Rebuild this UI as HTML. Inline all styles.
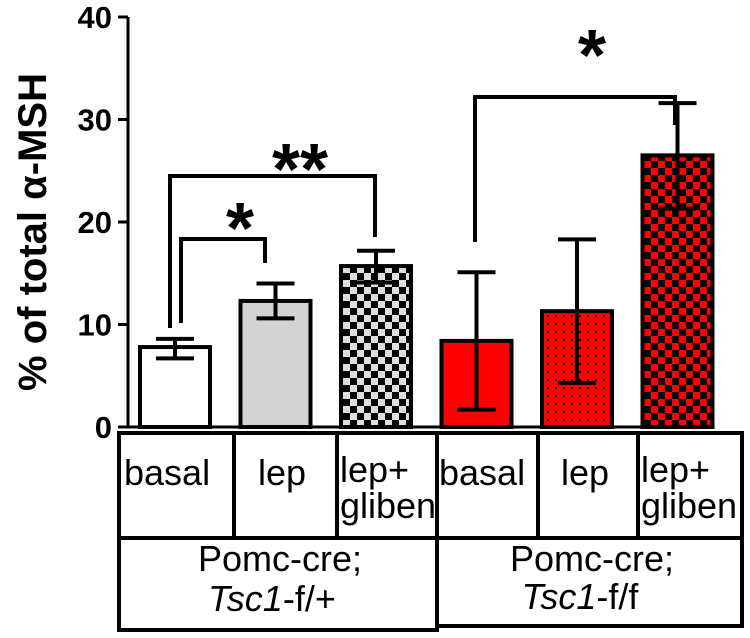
<!DOCTYPE html>
<html><head><meta charset="utf-8"><style>
body{margin:0;background:#fff;}
svg{display:block;font-family:"Liberation Sans",Arial,sans-serif;}
</style></head><body>
<svg id="c" width="750" height="638">
<defs>
<pattern id="chk" width="14" height="14" patternUnits="userSpaceOnUse"><rect width="14" height="14" fill="#ddd"/><rect width="7" height="7" fill="#000"/><rect x="7" y="7" width="7" height="7" fill="#000"/></pattern>
<pattern id="rchk" width="14" height="14" patternUnits="userSpaceOnUse"><rect width="14" height="14" fill="#f00"/><rect width="7" height="7" fill="#000"/><rect x="7" y="7" width="7" height="7" fill="#000"/></pattern>
<pattern id="rdot" width="8" height="8" patternUnits="userSpaceOnUse"><rect width="8" height="8" fill="#f00"/><rect x="3" y="3" width="2" height="2" fill="#000"/></pattern>
</defs>
<g id="plot"></g>
<text transform="translate(46,232) rotate(-90)" text-anchor="middle" font-size="40" font-weight="bold">% of total α-MSH</text>
<g fill="none" stroke="#000" stroke-width="4">
<rect x="119" y="433" width="623" height="105"/>
<rect x="119" y="538" width="318" height="92"/>
<rect x="437" y="538" width="305" height="88"/>
<line x1="234" y1="433" x2="234" y2="538"/><line x1="337" y1="433" x2="337" y2="538"/>
<line x1="437" y1="433" x2="437" y2="538"/><line x1="538" y1="433" x2="538" y2="538"/>
<line x1="638" y1="433" x2="638" y2="538"/>
</g>
<g font-size="36">
<text x="124" y="485">basal</text><text x="258" y="485">lep</text><text x="340" y="482">lep+</text><text x="340" y="518">gliben</text>
<text x="439" y="485">basal</text><text x="561" y="485">lep</text><text x="641" y="482">lep+</text><text x="641" y="518">gliben</text>
<text x="280" y="571" text-anchor="middle">Pomc-cre;</text><text x="272" y="611" text-anchor="middle"><tspan font-style="italic">Tsc1</tspan>-f/+</text>
<text x="592" y="571" text-anchor="middle">Pomc-cre;</text><text x="580" y="609" text-anchor="middle"><tspan font-style="italic">Tsc1</tspan>-f/f</text>
</g>
</svg>
<script>
const categories=["basal","lep","lep+gliben","basal","lep","lep+gliben"];
const means=[7.8,12.3,15.7,8.4,11.3,26.5];
const errUp=[8.6,14.0,17.2,15.1,18.3,31.6];
const errLo=[6.7,10.6,14.1,1.7,4.3,21.3];
const fills=["#fff","#d3d3d3","url(#chk)","#f00","url(#rdot)","url(#rchk)"];
const yTicks=[0,10,20,30,40];
const y=v=>427-v*10.25;
const x=i=>140+i*100.5;
const bw=70;
const NS="http://www.w3.org/2000/svg";
const g=document.getElementById('plot');
function mk(t,a){const e=document.createElementNS(NS,t);for(const k in a)e.setAttribute(k,a[k]);g.appendChild(e);return e;}
let ax=mk('line',{x1:128,y1:y(40),x2:128,y2:427,stroke:'#000','stroke-width':3});


let bx=mk('line',{x1:118,y1:427,x2:712,y2:427,stroke:'#000','stroke-width':3});


yTicks.forEach(t=>{
 let l=mk('line',{x1:118,y1:y(t),x2:128,y2:y(t),stroke:'#000','stroke-width':3});
 
 
 let tx=mk('text',{x:112,y:y(t)+11,'text-anchor':'end','font-size':31,'font-weight':'bold'});
 tx.textContent=t;
 
 
});
means.forEach((m,i)=>{
 let r=mk('rect',{x:x(i),y:y(m),width:bw,height:427-y(m),fill:fills[i],stroke:'#000','stroke-width':4});
 
 
 const cx=x(i)+bw/2;
 let e=mk('path',{d:`M${cx},${y(errUp[i])}V${y(errLo[i])}M${cx-19},${y(errUp[i])}H${cx+19}M${cx-19},${y(errLo[i])}H${cx+19}`,stroke:'#000','stroke-width':4,fill:'none'});
 
 
});
function bracket(a,b,top,la,lb,label,sx,sy){
 let p=mk('path',{d:`M${a},${la}V${top}H${b}V${lb}`,stroke:'#000','stroke-width':4,fill:'none'});
 
 
 let t=mk('text',{x:sx,y:sy,'text-anchor':'middle','font-size':72,'font-weight':'bold'});
 t.textContent=label;
 
 
}
bracket(181,265,239,323,263,'*',240,253);
bracket(170,375,176,328,237,'**',300,194);
bracket(475,675,97,242,125,'*',592,80);
</script>
</body></html>
